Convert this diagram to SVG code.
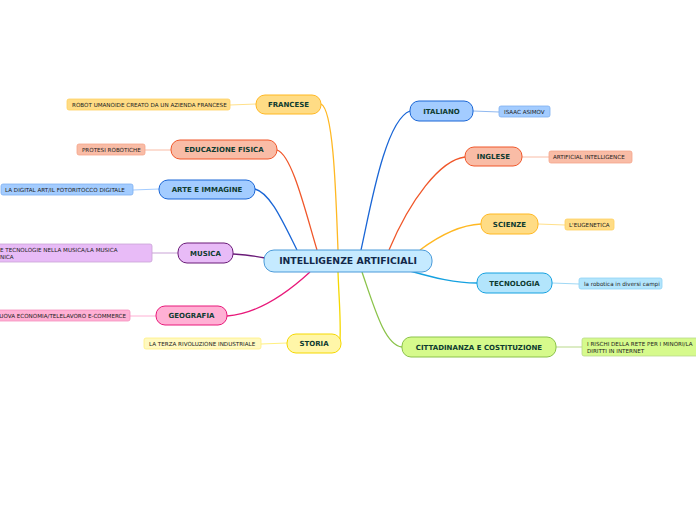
<svg xmlns="http://www.w3.org/2000/svg" width="696" height="520" viewBox="0 0 696 520">
<style>
.main text{font-family:"DejaVu Sans",Verdana,sans-serif;font-weight:bold;font-size:7px;fill:#0e3b30;text-anchor:middle}
.leaf text{font-family:"DejaVu Sans",Verdana,sans-serif;font-size:5.6px;fill:#222}
.c{fill:none;stroke-width:1.3}
.l{fill:none;stroke-width:1}
</style>
<rect width="696" height="520" fill="#fff"/>
<g id="connectors">
<path class="c" stroke="#ffb822" d="M321,104 C334,110 336,200 338,250"/>
<path class="c" stroke="#f0572a" d="M277,150 C292,155 305,210 317,250"/>
<path class="c" stroke="#1a66d6" d="M255,189 C270,193 282,220 297,250"/>
<path class="c" stroke="#6a1b78" d="M233,254 C248,255 256,256 265,258"/>
<path class="c" stroke="#e8197a" d="M227,316 C255,314 285,295 310,272"/>
<path class="c" stroke="#f5d800" d="M338,272 C339,300 341,320 340,340"/>
<path class="c" stroke="#1a66d6" d="M361,250 C370,210 385,120 410,111"/>
<path class="c" stroke="#f0572a" d="M389,250 C410,200 440,160 465,157"/>
<path class="c" stroke="#ffb822" d="M420,250 C440,235 460,225 481,224"/>
<path class="c" stroke="#15a1e0" d="M410,271 C435,278 455,283 477,283"/>
<path class="c" stroke="#8bc34a" d="M362,272 C375,310 385,345 402,347"/>
<path class="l" stroke="#ffe08a" d="M256,104 L230,105"/>
<path class="l" stroke="#f9bca6" d="M171,150 L145,150"/>
<path class="l" stroke="#a3ccff" d="M159,189 L133,190"/>
<path class="l" stroke="#c9a3d6" d="M178,253 L152,253"/>
<path class="l" stroke="#ffb0d4" d="M156,316 L130,316"/>
<path class="l" stroke="#fff080" d="M287,343 L261,344"/>
<path class="l" stroke="#8fb8f0" d="M473,111 L499,112"/>
<path class="l" stroke="#f9bca6" d="M522,157 L549,157"/>
<path class="l" stroke="#ffe08a" d="M538,224 L565,225"/>
<path class="l" stroke="#9fd8f5" d="M552,283 L579,284"/>
<path class="l" stroke="#b9d98a" d="M556,347 L582,347"/>
</g>
<g id="central">
<rect x="264" y="250" width="168" height="22" rx="10" fill="#c5eaff" stroke="#4a9ad9" stroke-width="1"/>
<text x="348" y="264.4" font-family="DejaVu Sans,Verdana,sans-serif" font-weight="bold" font-size="9.3" fill="#12284a" text-anchor="middle">INTELLIGENZE ARTIFICIALI</text>
</g>
<g id="francese" class="main"><rect x="256" y="95" width="65" height="19" rx="9" fill="#ffdc85" stroke="#ffb822"/><text x="288.5" y="107">FRANCESE</text></g>
<g id="francese-leaf" class="leaf"><rect x="67" y="99" width="163" height="11" rx="2" fill="#ffdc85" stroke="#ffd060" stroke-width="0.8"/><text x="72" y="106.7">ROBOT UMANOIDE CREATO DA UN AZIENDA FRANCESE</text></g>
<g id="edfisica" class="main"><rect x="171" y="140" width="106" height="19" rx="9" fill="#f9bca6" stroke="#f0572a"/><text x="224" y="152">EDUCAZIONE FISICA</text></g>
<g id="edfisica-leaf" class="leaf"><rect x="77" y="144" width="68" height="11" rx="2" fill="#f9bca6" stroke="#f5a58a" stroke-width="0.8"/><text x="82" y="151.7">PROTESI ROBOTICHE</text></g>
<g id="arte" class="main"><rect x="159" y="180" width="96" height="19" rx="9" fill="#a3ccff" stroke="#1a66d6"/><text x="207" y="192">ARTE E IMMAGINE</text></g>
<g id="arte-leaf" class="leaf"><rect x="1" y="184" width="132" height="11" rx="2" fill="#a3ccff" stroke="#7fb0f0" stroke-width="0.8"/><text x="5" y="191.7">LA DIGITAL ART/IL FOTORITOCCO DIGITALE</text></g>
<g id="musica" class="main"><rect x="178" y="243" width="55" height="20" rx="9" fill="#e8bbf7" stroke="#6a1b78"/><text x="205.5" y="255.5">MUSICA</text></g>
<g id="musica-leaf" class="leaf"><rect x="-20" y="244" width="172" height="18" rx="2" fill="#e8bbf7" stroke="#c9a3d6" stroke-width="0.8"/><text x="0" y="252">E TECNOLOGIE NELLA MUSICA/LA MUSICA</text><text x="0" y="259">NICA</text></g>
<g id="geografia" class="main"><rect x="156" y="306" width="71" height="19" rx="9" fill="#ffb0d4" stroke="#e8197a"/><text x="191.5" y="318">GEOGRAFIA</text></g>
<g id="geografia-leaf" class="leaf"><rect x="-20" y="310" width="150" height="11" rx="2" fill="#ffb0d4" stroke="#f58fbe" stroke-width="0.8"/><text x="126" y="317.7" text-anchor="end">UOVA ECONOMIA/TELELAVORO E-COMMERCE</text></g>
<g id="storia" class="main"><rect x="287" y="334" width="54" height="19" rx="9" fill="#fff6a8" stroke="#f5d800"/><text x="314" y="346">STORIA</text></g>
<g id="storia-leaf" class="leaf"><rect x="144" y="338" width="117" height="11" rx="2" fill="#fff9c0" stroke="#fff080" stroke-width="0.8"/><text x="149" y="345.7">LA TERZA RIVOLUZIONE INDUSTRIALE</text></g>
<g id="italiano" class="main"><rect x="410" y="101" width="63" height="20" rx="9" fill="#a3ccff" stroke="#1a66d6"/><text x="441.5" y="113.5">ITALIANO</text></g>
<g id="italiano-leaf" class="leaf"><rect x="499" y="106" width="51" height="11" rx="2" fill="#a3ccff" stroke="#7fb0f0" stroke-width="0.8"/><text x="504" y="113.7">ISAAC ASIMOV</text></g>
<g id="inglese" class="main"><rect x="465" y="147" width="57" height="19" rx="9" fill="#f9bca6" stroke="#f0572a"/><text x="493.5" y="159">INGLESE</text></g>
<g id="inglese-leaf" class="leaf"><rect x="549" y="151" width="83" height="12" rx="2" fill="#f9bca6" stroke="#f5a58a" stroke-width="0.8"/><text x="553" y="159">ARTIFICIAL INTELLIGENCE</text></g>
<g id="scienze" class="main"><rect x="481" y="214" width="57" height="20" rx="9" fill="#ffdc85" stroke="#ffb822"/><text x="509.5" y="226.5">SCIENZE</text></g>
<g id="scienze-leaf" class="leaf"><rect x="565" y="219" width="49" height="11" rx="2" fill="#ffdc85" stroke="#ffd060" stroke-width="0.8"/><text x="569" y="226.7">L'EUGENETICA</text></g>
<g id="tecnologia" class="main"><rect x="477" y="273" width="75" height="20" rx="9" fill="#b3e5fc" stroke="#15a1e0"/><text x="514.5" y="285.5">TECNOLOGIA</text></g>
<g id="tecnologia-leaf" class="leaf"><rect x="579" y="278" width="83" height="11" rx="2" fill="#b3e5fc" stroke="#8fd3f5" stroke-width="0.8"/><text x="584" y="285.7">la robotica in diversi campi</text></g>
<g id="cittadinanza" class="main"><rect x="402" y="337" width="154" height="20" rx="9" fill="#d6fa8c" stroke="#8bc34a"/><text x="479" y="349.5">CITTADINANZA E COSTITUZIONE</text></g>
<g id="cittadinanza-leaf" class="leaf"><rect x="582" y="338" width="130" height="18" rx="2" fill="#d6fa8c" stroke="#b9d98a" stroke-width="0.8"/><text x="587" y="345.5">I RISCHI DELLA RETE PER I MINORI/LA</text><text x="587" y="352.5">DIRITTI IN INTERNET</text></g>
</svg>
